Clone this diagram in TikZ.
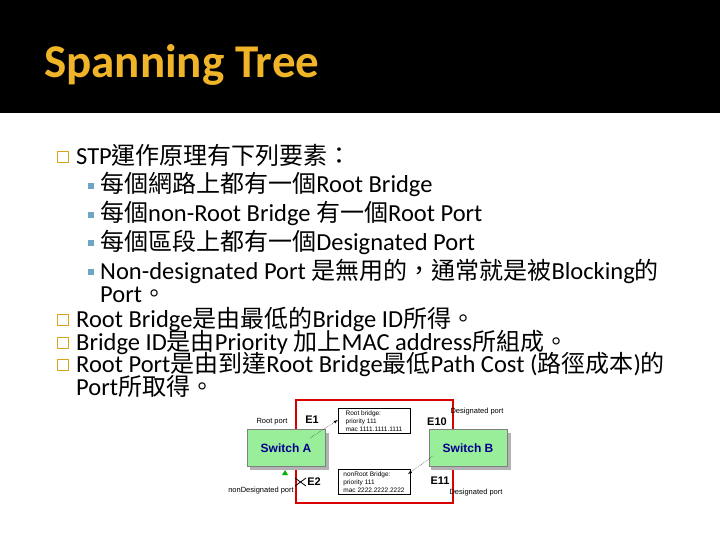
\documentclass[tikz,border=0pt]{standalone}
\usepackage{fontspec}
\setmainfont{Carlito}
\setsansfont{Liberation Sans}
\newfontfamily\cjk{Noto Sans CJK TC}[Scale=0.98]
\newcommand{\zh}[1]{{\cjk #1}}
\definecolor{ttl}{HTML}{F0B429}
\definecolor{sq}{HTML}{D9A520}
\definecolor{sb}{HTML}{6FA6C6}
\definecolor{grn}{HTML}{99EE99}
\begin{document}
\begin{tikzpicture}[x=1pt,y=-1pt,
  txt/.style={anchor=base west,inner sep=0,font=\fontsize{24.5}{25}\selectfont},
  l1/.style={draw=sq,line width=1.2pt,minimum size=11pt,inner sep=0},
  l2/.style={fill=sb,minimum size=6pt,inner sep=0},
  sw/.style={draw=gray,fill=grn,minimum width=78pt,minimum height=37pt,font=\sffamily\bfseries\fontsize{12}{13}\selectfont,text=blue!55!black},
  lab/.style={draw,fill=white,minimum width=72pt,align=left,inner sep=2pt,font=\sffamily\fontsize{6.5}{8}\selectfont},
  sm/.style={font=\sffamily\fontsize{7.5}{8}\selectfont,inner sep=0},
  big/.style={font=\sffamily\bfseries\fontsize{11}{12}\selectfont,inner sep=0}]
\useasboundingbox (0,0) rectangle (720,540);
\fill[black] (0,0) rectangle (720,113);
\node[anchor=base west,inner sep=0,text=ttl,font=\bfseries\fontsize{47}{50}\selectfont] (title) at (44,78) {Spanning Tree};
\node[l1] (b1) at (63,157) {};
\node[txt] (t1) at (76,165) {STP\zh{運作原理有下列要素：}};
\node[l2] (s1) at (91,186) {};
\node[txt] (t2) at (100,193) {\zh{每個網路上都有一個}Root Bridge};
\node[l2] (s2) at (91,215) {};
\node[txt] (t3) at (100,222) {\zh{每個}non-Root Bridge \zh{有一個}Root Port};
\node[l2] (s3) at (91,243) {};
\node[txt] (t4) at (100,250) {\zh{每個區段上都有一個}Designated Port};
\node[l2] (s4) at (91,272) {};
\node[txt] (t5) at (100,279) {Non-designated Port \zh{是無用的，通常就是被}Blocking\zh{的}};
\node[txt] (t5b) at (100,302) {Port\zh{。}};
\node[l1] (b2) at (63,320) {};
\node[txt] (t6) at (76,327) {Root Bridge\zh{是由最低的}Bridge ID\zh{所得。}};
\node[l1] (b3) at (63,343) {};
\node[txt] (t7) at (76,350) {Bridge ID\zh{是由}Priority \zh{加上}MAC address\zh{所組成。}};
\node[l1] (b4) at (63,365) {};
\node[txt] (t8) at (76,372) {Root Port\zh{是由到達}Root Bridge\zh{最低}Path Cost (\zh{路徑成本})\zh{的}};
\node[txt] (t9) at (76,395) {Port\zh{所取得。}};
% diagram
\draw[red!85!black,line width=1.5pt] (296,400) rectangle (453,503);
\fill[gray!60] (250,433) rectangle (329,470);
\fill[gray!60] (431,433) rectangle (511,470);
\node[sw] (A) at (286,448) {Switch A};
\node[sw] (B) at (468,448) {Switch B};
\node[lab] (L1) at (374,421) {Root bridge:\\priority 111\\mac 1111.1111.1111};
\node[lab] (L2) at (374,482) {nonRoot Bridge:\\priority 111\\mac 2222.2222.2222};
\coordinate (a1) at (310,438);
\coordinate (a2) at (433,456);
\draw[-latex,densely dotted] (a1) -- (L1.west |- 0,420);
\draw[-latex,densely dotted] (a2) -- (408,474);
\node[sm] (rp) at (272,422) {Root port};
\node[big] (e1) at (312,420) {E1};
\node[big] (e10) at (437,422) {E10};
\node[sm] (dp1) at (477,412) {Designated port};
\node[big] (e11) at (440,481) {E11};
\node[sm] (dp2) at (476,493) {Designated port};
\node[big] (e2) at (314,482) {E2};
\node[sm] (ndp) at (261,491) {nonDesignated port};
\fill[green!70!black] (282,475) -- (285,470) -- (288,475) -- cycle;
\draw[line width=0.8pt] (295,478) -- (306,486) (295,486) -- (306,478);
\end{tikzpicture}
\end{document}
